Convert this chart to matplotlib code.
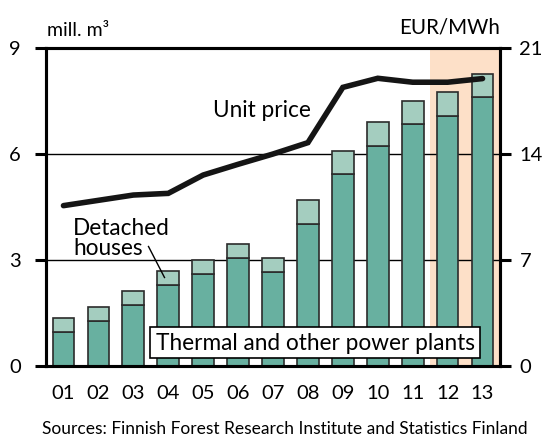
import matplotlib
matplotlib.use("Agg")
import matplotlib.pyplot as plt
from matplotlib.patches import Rectangle
import numpy as np

plt.rcParams['font.family'] = ['Lato', 'DejaVu Sans']

years = ["01", "02", "03", "04", "05", "06", "07", "08", "09", "10", "11", "12", "13"]
thermal = [0.95, 1.26, 1.72, 2.29, 2.59, 3.06, 2.67, 4.03, 5.42, 6.24, 6.84, 7.08, 7.60]
houses = [0.40, 0.40, 0.40, 0.41, 0.40, 0.39, 0.38, 0.67, 0.66, 0.66, 0.67, 0.68, 0.66]
unit_price = [10.59, 10.94, 11.29, 11.40, 12.61, 13.32, 14.00, 14.75, 18.40, 19.00, 18.74, 18.74, 18.98]
left_ticks = [0, 3, 6, 9]
right_ticks = [0, 7, 14, 21]

DARK = "#68b0a0"
LIGHT = "#a4cdbf"
PEACH = "#fde0c8"
EDGE = "#2b2b2b"
W, H = 547, 436

fig = plt.figure(figsize=(W / 100, H / 100), dpi=100)
L, R, T, B = 46, 500, 48, 366
ax = fig.add_axes([L / W, 1 - B / H, (R - L) / W, (B - T) / H])

x = np.arange(len(years))
ax.set_xlim(-0.5, len(years) - 0.5)
ax.set_ylim(0, 9)

ax.axvspan(10.5, 12.5, color=PEACH, lw=0, zorder=0)
for yv in left_ticks[1:-1]:
    ax.axhline(yv, color="black", lw=1.0, zorder=1)

ax.bar(x, thermal, width=0.62, color=DARK, edgecolor=EDGE, linewidth=1.2, zorder=2)
ax.bar(x, houses, bottom=thermal, width=0.62, color=LIGHT, edgecolor=EDGE, linewidth=1.2, zorder=2)

ax.set_xticks(x)
ax.set_xticklabels(years)
ax.set_yticks(left_ticks)
ax.tick_params(axis='x', length=0, pad=14, labelsize=14.5)
ax.tick_params(axis='y', length=8, width=2.2, direction='out', pad=10, labelsize=14.5)
for s in ax.spines.values():
    s.set_linewidth(2.2)

ax2 = ax.twinx()
ax2.set_ylim(0, 21)
ax2.set_yticks(right_ticks)
ax2.tick_params(axis='y', length=8, width=2.2, direction='out', pad=6, labelsize=14.5)
for s in ax2.spines.values():
    s.set_linewidth(2.2)
ax2.plot(x, unit_price, color="#151515", lw=4, solid_capstyle='round', solid_joinstyle='miter', zorder=5)


def fx(px):
    return (px - L) / (R - L)


def fy(py):
    return (B - py) / (B - T)


ax.text(fx(213), fy(117.3), "Unit price", transform=ax.transAxes, fontsize=16.3,
        ha='left', va='baseline', zorder=6)
ax.text(fx(73), fy(235), "Detached", transform=ax.transAxes, fontsize=16.3,
        ha='left', va='baseline', zorder=6)
ax.text(fx(73), fy(255), "houses", transform=ax.transAxes, fontsize=16.3,
        ha='left', va='baseline', zorder=6)
ax.plot([fx(148.5), fx(164.5)], [fy(246.5), fy(277.5)], transform=ax.transAxes,
        color="black", lw=1.0, zorder=6)

ax.add_patch(Rectangle((fx(150), fy(358)), fx(480) - fx(150), fy(327) - fy(358),
                       transform=ax.transAxes, facecolor="white", edgecolor="black",
                       lw=1.2, zorder=6))
ax.text((fx(150) + fx(480)) / 2, fy(350), "Thermal and other power plants",
        transform=ax.transAxes, fontsize=16.3, ha='center', va='baseline', zorder=7)

fig.text(47 / W, 1 - 36 / H, "mill. m³", fontsize=14, ha='left', va='baseline')
fig.text(500 / W, 1 - 33.5 / H, "EUR/MWh", fontsize=14.8, ha='right', va='baseline')
fig.text(285 / W, 1 - 434 / H, "Sources: Finnish Forest Research Institute and Statistics Finland",
         fontsize=12.5, ha='center', va='baseline')

fig.savefig("out.png", dpi=100)
